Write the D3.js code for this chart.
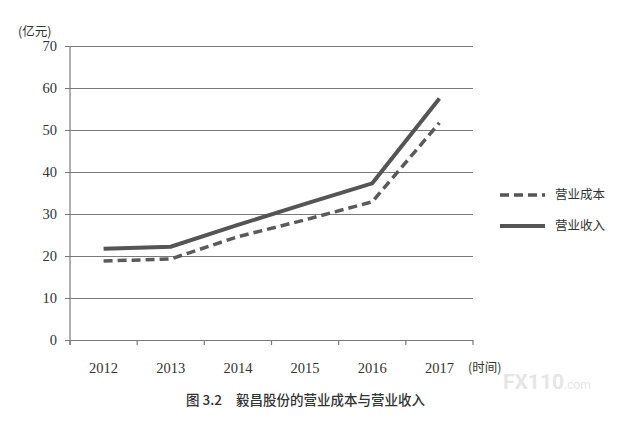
<!DOCTYPE html>
<html>
<head>
<meta charset="utf-8">
<script src="https://cdn.jsdelivr.net/npm/d3@7"></script>
<style>
  body { margin: 0; background: #fff; }
  svg text { fill: #333; }
</style>
</head>
<body>
<svg id="chart" width="634" height="422"></svg>
<script>
// data (亿元)
const years = ["2012", "2013", "2014", "2015", "2016", "2017"];
const revenue = [21.7, 22.2, 27.4, 32.4, 37.3, 57.5];   // 营业收入
const cost = [18.8, 19.3, 24.6, 28.6, 32.9, 51.7];      // 营业成本
const yTicks = [0, 10, 20, 30, 40, 50, 60, 70];

const svg = d3.select("#chart");
const plotLeft = 70, plotRight = 473, plotTop = 46, plotBottom = 340;

const x = d3.scaleBand().domain(years).range([plotLeft, plotRight]);
const y = d3.scaleLinear().domain([0, 70]).range([plotBottom, plotTop]);

const numFont = "'Liberation Serif', 'DejaVu Serif', serif";
const cjkFont = "'Noto Sans CJK SC', sans-serif";

// gridlines + little ticks to the left
svg.append("g")
  .attr("transform", `translate(${plotLeft},0)`)
  .call(d3.axisLeft(y).tickValues(yTicks).tickSize(-(plotRight - plotLeft)).tickSizeOuter(0).tickPadding(13))
  .call(g => g.select(".domain").remove())
  .call(g => g.selectAll(".tick line")
    .attr("x1", -5)
    .attr("stroke", "#7a7a7a").attr("stroke-width", 1.2))
  .call(g => g.selectAll(".tick text")
    .attr("fill", "#333")
    .style("font-family", numFont).style("font-size", "14.5px"));

// vertical axis line
svg.append("line")
  .attr("x1", plotLeft).attr("x2", plotLeft)
  .attr("y1", plotTop).attr("y2", plotBottom + 5)
  .attr("stroke", "#7a7a7a").attr("stroke-width", 1.2);

// x axis: ticks at band edges, labels at centers
const xEdges = years.map(d => x(d)).concat([plotRight]);
svg.append("g").selectAll("line")
  .data(xEdges)
  .enter().append("line")
  .attr("x1", d => d).attr("x2", d => d)
  .attr("y1", plotBottom).attr("y2", plotBottom + 5)
  .attr("stroke", "#7a7a7a").attr("stroke-width", 1.2);

svg.append("g").selectAll("text")
  .data(years)
  .enter().append("text")
  .attr("x", d => x(d) + x.bandwidth() / 2)
  .attr("y", 373)
  .attr("text-anchor", "middle")
  .style("font-family", numFont).style("font-size", "14.5px")
  .text(d => d);

svg.append("text")
  .attr("x", 468).attr("y", 372)
  .style("font-family", cjkFont).style("font-size", "12.5px")
  .text("(时间)");

svg.append("text")
  .attr("x", 18).attr("y", 36)
  .style("font-family", cjkFont).style("font-size", "12.5px")
  .text("(亿元)");

// lines
const line = d3.line()
  .x((d, i) => x(years[i]) + x.bandwidth() / 2)
  .y(d => y(d));

svg.append("path")
  .datum(cost)
  .attr("d", line)
  .attr("fill", "none")
  .attr("stroke", "#5a5a5a")
  .attr("stroke-width", 3.5)
  .attr("stroke-dasharray", "9,5");

svg.append("path")
  .datum(revenue)
  .attr("d", line)
  .attr("fill", "none")
  .attr("stroke", "#555")
  .attr("stroke-width", 4);

// legend
const legend = [
  { label: "营业成本", dash: "9,5", w: 3.5, y: 195 },
  { label: "营业收入", dash: null, w: 4, y: 226 }
];
const lg = svg.append("g").selectAll("g")
  .data(legend)
  .enter().append("g");
lg.append("line")
  .attr("x1", 500).attr("x2", 545)
  .attr("y1", d => d.y).attr("y2", d => d.y)
  .attr("stroke", "#555")
  .attr("stroke-width", d => d.w)
  .attr("stroke-dasharray", d => d.dash);
lg.append("text")
  .attr("x", 555).attr("y", d => d.y + 4)
  .style("font-family", cjkFont).style("font-size", "12.5px")
  .text(d => d.label);

// caption
const cap = svg.append("text")
  .attr("y", 405)
  .style("font-family", cjkFont).style("font-size", "13.5px")
  .style("font-weight", "500");
cap.append("tspan").attr("x", 186).text("图 3.2");
cap.append("tspan").attr("x", 236).text("毅昌股份的营业成本与营业收入");

// watermark
const wm = svg.append("text")
  .attr("x", 503).attr("y", 389)
  .style("font-family", "'Roboto', sans-serif");
wm.append("tspan").style("font-size", "21px").style("font-weight", "bold")
  .style("fill", "#e6e6e6").text("FX110");
wm.append("tspan").style("font-size", "12px")
  .style("fill", "#e6e6e6").text(".com");
</script>
</body>
</html>
